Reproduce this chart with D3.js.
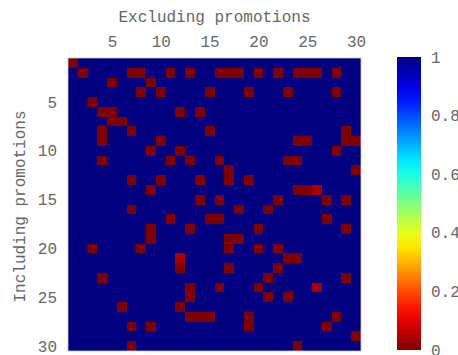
<!DOCTYPE html>
<html>
<head>
<meta charset="utf-8">
<script src="https://cdn.jsdelivr.net/npm/d3@7"></script>
<style>
  html, body { margin: 0; padding: 0; background: #fff; }
  svg { display: block; }
  text { font-family: "Courier New", "Liberation Mono", monospace; fill: #666; }
</style>
</head>
<body>
<svg id="chart" width="458" height="355"></svg>
<script>
// Row/column indices (1..30)
const rowLabels = d3.range(1, 31);
const colLabels = d3.range(1, 31);

// Matrix values: rows = including promotions, columns = excluding promotions
const matrix = [
  [0,1,1,1,1, 1,1,1,1,1, 1,1,1,1,1, 1,1,1,1,1, 1,1,1,1,1, 1,1,1,1,1],
  [1,0,1,1,1, 1,0,0,1,1, 0,1,0,1,1, 0,0,0,1,0, 1,0,1,0,0, 0,1,0,1,1],
  [1,1,1,1,0, 1,1,1,0,1, 1,1,1,1,1, 1,1,1,1,1, 1,1,1,1,1, 1,1,1,1,1],
  [1,1,1,1,1, 1,1,0,1,0, 1,1,1,1,0, 1,1,1,0,1, 1,1,0,1,1, 1,1,0,1,1],
  [1,1,0,1,1, 1,1,1,1,1, 1,1,1,1,1, 1,1,1,1,1, 1,1,1,1,1, 1,1,1,1,1],
  [1,1,1,0,0, 1,1,1,1,1, 1,0,1,0,1, 1,1,1,1,1, 1,1,1,1,1, 1,1,1,1,1],
  [1,1,1,1,0, 0,1,1,1,1, 1,1,1,1,1, 1,1,1,1,1, 1,1,1,1,1, 1,1,1,1,1],
  [1,1,1,0,1, 1,0,1,1,1, 1,1,1,1,0, 1,1,1,1,1, 1,1,1,1,1, 1,1,1,0,1],
  [1,1,1,0,1, 1,1,1,1,0, 1,1,1,1,1, 1,1,1,1,1, 1,1,1,0,0, 1,1,1,0,0],
  [1,1,1,1,1, 1,1,1,0,1, 1,0,1,1,1, 1,1,1,1,1, 1,1,1,1,1, 1,1,0,1,1],
  [1,1,1,0,1, 1,1,1,1,1, 0,1,0,1,1, 0,1,1,1,1, 1,1,0,0,1, 1,1,1,1,1],
  [1,1,1,1,1, 1,1,1,1,1, 1,1,1,1,1, 1,0,1,1,1, 1,1,1,1,1, 1,1,1,1,0],
  [1,1,1,1,1, 1,0,1,1,0, 1,1,1,0,1, 1,0,1,0,1, 1,1,1,1,1, 1,1,1,1,1],
  [1,1,1,1,1, 1,1,1,0,1, 1,1,1,1,1, 1,1,1,1,1, 1,1,1,0,0, 0.04,1,1,1,1],
  [1,1,1,1,1, 1,1,1,1,1, 1,1,1,0,1, 0,1,1,1,1, 1,0,1,1,1, 1,0,1,0,1],
  [1,1,1,1,1, 1,0,1,1,1, 1,1,1,1,1, 1,1,0,1,1, 0,1,1,1,1, 1,1,1,1,1],
  [1,1,1,1,1, 1,1,1,1,1, 0,1,1,1,0, 0,1,1,1,1, 1,1,1,1,1, 1,0,1,1,1],
  [1,1,1,1,1, 1,1,1,0,1, 1,1,0,1,1, 1,1,1,1,0, 1,1,1,1,1, 1,1,1,0,1],
  [1,1,1,1,1, 1,1,1,0,1, 1,1,1,1,1, 1,0,0,1,1, 1,1,1,1,1, 1,1,1,1,1],
  [1,1,0,1,1, 1,1,0,1,1, 1,1,1,1,1, 1,0,1,1,0, 1,0,1,1,1, 1,1,1,1,1],
  [1,1,1,1,1, 1,1,1,1,1, 1,0.04,1,1,1, 1,1,1,1,1, 1,1,0,0,1, 1,1,1,1,1],
  [1,1,1,1,1, 1,1,1,1,1, 1,0,1,1,1, 1,0,1,1,1, 1,0,1,1,1, 1,1,1,1,1],
  [1,1,1,0,1, 1,1,1,1,1, 1,1,1,1,1, 1,1,1,1,1, 0,1,1,1,1, 1,1,1,0,1],
  [1,1,1,1,1, 1,1,1,1,1, 1,1,0,1,1, 0,1,1,1,0, 1,1,1,1,1, 0.04,1,1,1,1],
  [1,1,1,1,1, 1,1,1,1,1, 1,1,0,1,1, 1,1,1,1,1, 0,1,0,1,1, 1,1,1,1,1],
  [1,1,1,1,1, 0,1,1,1,1, 1,0,1,1,1, 1,1,1,1,1, 1,1,1,1,1, 1,1,1,1,1],
  [1,1,1,1,1, 1,1,1,1,1, 1,1,0,0,0, 1,1,1,0,1, 1,1,1,1,1, 1,1,0,1,1],
  [1,1,1,1,1, 1,0,1,0,1, 1,1,1,1,1, 1,1,1,0,1, 1,1,1,1,1, 1,0,1,1,1],
  [1,1,1,1,1, 1,1,1,1,1, 1,1,1,1,1, 1,1,1,1,1, 1,1,1,1,1, 1,1,1,1,0],
  [1,1,1,1,1, 1,0,1,1,1, 1,1,1,1,1, 1,1,1,1,1, 1,1,1,0,1, 1,1,1,1,1]
];

const axisTicks = [5, 10, 15, 20, 25, 30];
const colorTicks = [0, 0.2, 0.4, 0.6, 0.8, 1];
const xTitle = "Excluding promotions";
const yTitle = "Including promotions";

// Jet colormap, reversed so that 0 is dark red and 1 is dark blue
function jet(t) {
  const c = v => Math.max(0, Math.min(1, v));
  const r = c(1.5 - Math.abs(4 * t - 3));
  const g = c(1.5 - Math.abs(4 * t - 2));
  const b = c(1.5 - Math.abs(4 * t - 1));
  return d3.rgb(r * 255, g * 255, b * 255).toString();
}
const color = v => jet(1 - v);

const svg = d3.select("#chart");
const plot = { left: 68, top: 58, right: 361, bottom: 351 };

const x = d3.scaleLinear().domain([0.5, 30.5]).range([plot.left, plot.right]);
const y = d3.scaleLinear().domain([0.5, 30.5]).range([plot.top, plot.bottom]);

const cells = [];
matrix.forEach((row, i) => row.forEach((v, j) => {
  cells.push({ r: rowLabels[i], c: colLabels[j], v });
}));

svg.append("g")
  .selectAll("rect")
  .data(cells)
  .join("rect")
  .attr("x", d => x(d.c - 0.5))
  .attr("y", d => y(d.r - 0.5))
  .attr("width", d => x(d.c + 0.5) - x(d.c - 0.5) + 0.3)
  .attr("height", d => y(d.r + 0.5) - y(d.r - 0.5) + 0.3)
  .attr("fill", d => color(d.v))
  .attr("shape-rendering", "crispEdges");

// frame
svg.append("rect")
  .attr("x", plot.left).attr("y", plot.top)
  .attr("width", plot.right - plot.left).attr("height", plot.bottom - plot.top)
  .attr("fill", "none").attr("stroke", "#c8c8d8").attr("stroke-width", 0.8);

// top axis
const xAxis = svg.append("g")
  .attr("transform", `translate(0,${plot.top})`)
  .call(d3.axisTop(x).tickValues(axisTicks).tickSize(0).tickPadding(11));
xAxis.select(".domain").remove();
xAxis.selectAll("text").style("font-size", "16px").attr("fill", "#666");

// left axis
const yAxis = svg.append("g")
  .attr("transform", `translate(${plot.left},0)`)
  .call(d3.axisLeft(y).tickValues(axisTicks).tickSize(0).tickPadding(11));
yAxis.select(".domain").remove();
yAxis.selectAll("text").style("font-size", "16px").attr("fill", "#666");

svg.append("text")
  .attr("x", (plot.left + plot.right) / 2)
  .attr("y", 22)
  .attr("text-anchor", "middle")
  .style("font-size", "16px")
  .text(xTitle);

svg.append("text")
  .attr("transform", `translate(25,${(plot.top + plot.bottom) / 2 + 2}) rotate(-90)`)
  .attr("text-anchor", "middle")
  .style("font-size", "16px")
  .text(yTitle);

// colorbar
const cb = { left: 397, width: 24, top: 57, bottom: 350 };
const cbScale = d3.scaleLinear().domain([0, 1]).range([cb.bottom, cb.top]);

const grad = svg.append("defs").append("linearGradient")
  .attr("id", "jetGrad")
  .attr("x1", 0).attr("y1", 1).attr("x2", 0).attr("y2", 0);
grad.selectAll("stop")
  .data(d3.range(0, 1.0001, 0.05))
  .join("stop")
  .attr("offset", d => d)
  .attr("stop-color", d => color(d));

svg.append("rect")
  .attr("x", cb.left).attr("y", cb.top)
  .attr("width", cb.width).attr("height", cb.bottom - cb.top)
  .attr("fill", "url(#jetGrad)");

const cAxis = svg.append("g")
  .attr("transform", `translate(${cb.left + cb.width},0)`)
  .call(d3.axisRight(cbScale).tickValues(colorTicks).tickSize(0).tickPadding(10)
    .tickFormat(d => d === 0 || d === 1 ? String(d) : d3.format(".1f")(d)));
cAxis.select(".domain").remove();
cAxis.selectAll("text").style("font-size", "16px").attr("fill", "#666");
</script>
</body>
</html>
